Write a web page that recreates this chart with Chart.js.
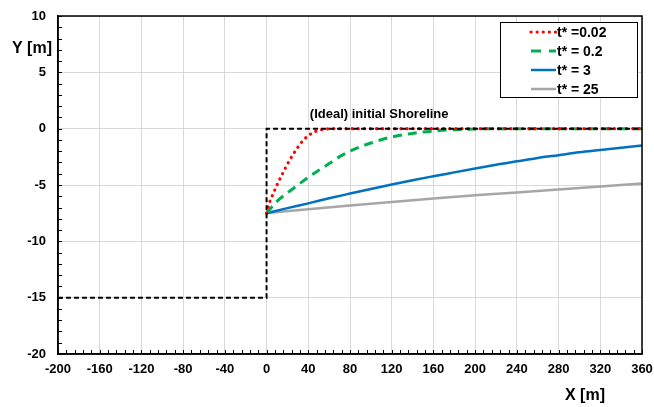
<!DOCTYPE html>
<html>
<head>
<meta charset="utf-8">
<script src="https://cdn.jsdelivr.net/npm/chart.js@4.4.0/dist/chart.umd.min.js"></script>
<style>
  html, body { margin: 0; padding: 0; background: #fff; }
</style>
</head>
<body>
<canvas id="shoreChart" width="654" height="407"></canvas>
<script>
// ==========================
// Data
// ==========================
const initialX = [-200, 0, 0, 360];
const initialY = [-15, -15, 0, 0];

const t002X = [0, 3, 6, 10, 15, 20, 25, 30, 35, 40, 45, 50, 55, 60, 65, 80, 120, 160, 200, 240, 280, 320, 360];
const t002Y = [-7.5, -6.5, -5.85, -5.0, -4.05, -3.15, -2.35, -1.65, -1.05, -0.62, -0.33, -0.15, -0.05, -0.01, 0, 0, 0, 0, 0, 0, 0, 0, 0];

const t02X = [0, 10, 20, 30, 40, 50, 60, 70, 80, 90, 100, 110, 120, 140, 160, 180, 200, 220, 260, 300, 360];
const t02Y = [-7.5, -6.45, -5.7, -5.0, -4.32, -3.7, -3.1, -2.48, -2.0, -1.6, -1.27, -0.98, -0.74, -0.42, -0.21, -0.09, -0.03, 0, 0, 0, 0];

const t3X = [0, 20, 40, 60, 80, 100, 120, 140, 160, 180, 200, 220, 240, 260, 280, 300, 320, 340, 360];
const t3Y = [-7.5, -7.05, -6.63, -6.18, -5.76, -5.35, -4.95, -4.57, -4.22, -3.88, -3.54, -3.2, -2.9, -2.6, -2.35, -2.1, -1.9, -1.7, -1.5];

const t25X = [0, 40, 80, 120, 160, 200, 240, 280, 320, 360];
const t25Y = [-7.5, -7.15, -6.82, -6.5, -6.2, -5.92, -5.67, -5.4, -5.13, -4.87];

const legendLabels = ["t* =0.02", "t* = 0.2", "t* = 3", "t* = 25"];
const noteText = "(Ideal) initial Shoreline";
const noteX = 108;
const noteY = 1.3;

const FONT = '"Liberation Sans", Arial, sans-serif';

function pts(xs, ys) {
  return xs.map((x, i) => ({ x: x, y: ys[i] }));
}

function noPad(s) {
  s.paddingLeft = 0;
  s.paddingRight = 0;
  s.paddingTop = 0;
  s.paddingBottom = 0;
}

// ==========================
// Extras: frame, minor ticks, note, legend, axis titles
// ==========================
const extras = {
  id: "extras",
  afterDatasetsDraw(chart) {
    const ctx = chart.ctx;
    const a = chart.chartArea;
    const xs = chart.scales.x;
    const ys = chart.scales.y;
    ctx.save();

    // frame
    ctx.strokeStyle = "#000";
    ctx.lineWidth = 1.5;
    ctx.strokeRect(a.left, a.top, a.right - a.left, a.bottom - a.top);

    // minor ticks
    ctx.lineWidth = 1;
    ctx.beginPath();
    for (let v = -200; v <= 360; v += 8) {
      const px = Math.round(xs.getPixelForValue(v)) + 0.5;
      ctx.moveTo(px, a.bottom);
      ctx.lineTo(px, a.bottom - 4);
    }
    for (let v = -20; v <= 10; v += 1) {
      const py = Math.round(ys.getPixelForValue(v)) + 0.5;
      ctx.moveTo(a.left, py);
      ctx.lineTo(a.left + 4, py);
    }
    ctx.stroke();

    // note
    ctx.fillStyle = "#000";
    ctx.font = "bold 13px " + FONT;
    ctx.textAlign = "center";
    ctx.textBaseline = "middle";
    ctx.fillText(noteText, xs.getPixelForValue(noteX), ys.getPixelForValue(noteY));

    // legend
    const lx = a.right - 142, ly = a.top + 6, lw = 137, lh = 75;
    ctx.fillStyle = "#fff";
    ctx.fillRect(lx, ly, lw, lh);
    ctx.strokeStyle = "#000";
    ctx.lineWidth = 1;
    ctx.strokeRect(lx + 0.5, ly + 0.5, lw, lh);
    chart.data.datasets.forEach((ds, i) => {
      if (i === 0) return;
      const row = i - 1;
      const y = ly + 10 + row * 19;
      ctx.save();
      ctx.strokeStyle = ds.borderColor;
      ctx.lineWidth = ds.borderWidth;
      ctx.lineCap = ds.borderCapStyle || "butt";
      ctx.setLineDash(row === 1 ? [10, 8] : (ds.borderDash || []));
      ctx.beginPath();
      ctx.moveTo(lx + 31, y);
      ctx.lineTo(lx + 56, y);
      ctx.stroke();
      ctx.restore();
      ctx.fillStyle = "#000";
      ctx.font = "bold 14px " + FONT;
      ctx.textAlign = "left";
      ctx.textBaseline = "middle";
      ctx.fillText(legendLabels[row], lx + 57, y + 1);
    });

    // axis titles
    ctx.font = "bold 16px " + FONT;
    ctx.textAlign = "center";
    ctx.textBaseline = "middle";
    ctx.fillText("Y [m]", 32, 49);
    ctx.fillText("X [m]", 585, 396);
    ctx.restore();
  }
};

new Chart(document.getElementById("shoreChart"), {
  type: "line",
  data: {
    datasets: [
      {
        label: "initial",
        data: pts(initialX, initialY),
        borderColor: "#000",
        borderWidth: 2,
        borderDash: [5, 3],
        tension: 0
      },
      {
        label: legendLabels[0],
        data: pts(t002X, t002Y),
        borderColor: "#ff0000",
        borderWidth: 3.2,
        borderDash: [0.1, 6],
        borderCapStyle: "round",
        cubicInterpolationMode: "monotone"
      },
      {
        label: legendLabels[1],
        data: pts(t02X, t02Y),
        borderColor: "#00b050",
        borderWidth: 3,
        borderDash: [9, 6],
        cubicInterpolationMode: "monotone"
      },
      {
        label: legendLabels[2],
        data: pts(t3X, t3Y),
        borderColor: "#0070c0",
        borderWidth: 2.5,
        cubicInterpolationMode: "monotone"
      },
      {
        label: legendLabels[3],
        data: pts(t25X, t25Y),
        borderColor: "#a6a6a6",
        borderWidth: 2.5,
        cubicInterpolationMode: "monotone"
      }
    ]
  },
  options: {
    responsive: false,
    animation: false,
    devicePixelRatio: 1,
    layout: { autoPadding: false, padding: { left: 0, right: 12, top: 16, bottom: 0 } },
    elements: { point: { radius: 0 } },
    plugins: { legend: { display: false }, tooltip: { enabled: false } },
    scales: {
      x: {
        type: "linear",
        min: -200,
        max: 360,
        afterFit: s => { s.height = 53; noPad(s); },
        ticks: { stepSize: 40, padding: 8, color: "#000", font: { family: FONT, size: 13, weight: "bold" } },
        grid: { color: "#d9d9d9", drawTicks: false },
        border: { color: "#000", width: 1.5 }
      },
      y: {
        min: -20,
        max: 10,
        afterFit: s => { s.width = 58; noPad(s); },
        ticks: { stepSize: 5, padding: 12, color: "#000", font: { family: FONT, size: 13, weight: "bold" } },
        grid: { color: "#d9d9d9", drawTicks: false },
        border: { color: "#000", width: 1.5 }
      }
    }
  },
  plugins: [extras]
});
</script>
</body>
</html>
